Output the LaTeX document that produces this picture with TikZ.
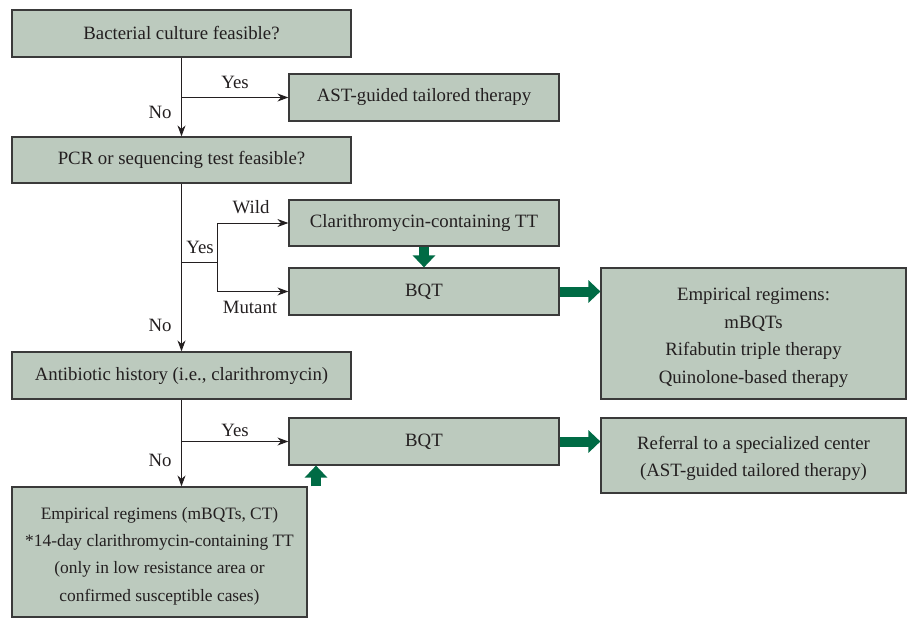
\documentclass[tikz,border=0pt]{standalone}
\usepackage{fontspec}
\setmainfont{Liberation Serif}
\usetikzlibrary{arrows.meta}
\definecolor{boxfill}{HTML}{BCCABE}
\definecolor{boxdraw}{HTML}{3A3A3A}
\definecolor{garrow}{HTML}{006B45}
\definecolor{ink}{HTML}{231F20}
\begin{document}
\begin{tikzpicture}[x=1pt,y=-1pt,
  box/.style={draw=boxdraw, fill=boxfill, line width=1.2pt, inner sep=0pt, align=center,
    font=\fontsize{18.8}{27.6}\selectfont, text=ink},
  multi/.style={inner sep=0pt, align=center, font=\fontsize{18.8}{27.6}\selectfont, text=ink},
  lab/.style={font=\fontsize{18.8}{22}\selectfont, inner sep=1pt, text=ink},
  conn/.style={line width=1pt, draw=ink, -{Stealth[length=11pt,width=8pt]}},
  plain/.style={line width=1pt, draw=ink},
  garr/.style={line width=10pt, draw=garrow, -{Triangle[length=12pt,width=22pt]}}]
\useasboundingbox (0,0) rectangle (908,619);
% boxes
\node[box, minimum width=339pt, minimum height=47pt] (b1) at (181.5,33.5) {Bacterial culture feasible?};
\node[box, minimum width=270pt, minimum height=47pt] (b2) at (424,97.5) {AST-guided tailored therapy};
\node[box, minimum width=339pt, minimum height=46pt] (b3) at (181.5,160) {PCR or sequencing test feasible?};
\node[box, minimum width=270pt, minimum height=46pt] (b4) at (424,223) {Clarithromycin-containing TT};
\node[box, minimum width=270pt, minimum height=47pt] (b5) at (424,291.5) {BQT};
\node[box, minimum width=305pt, minimum height=131pt] (b6) at (753.5,333.5) {};
\node[multi, yshift=-4pt] (t6) at (b6.center) {Empirical regimens:\\mBQTs\\Rifabutin triple therapy\\Quinolone-based therapy};
\node[box, minimum width=339pt, minimum height=47pt] (b7) at (181.5,375.5) {Antibiotic history (i.e., clarithromycin)};
\node[box, minimum width=270pt, minimum height=47pt] (b8) at (424,441.5) {BQT};
\node[box, minimum width=305pt, minimum height=75pt] (b9) at (753.5,455.5) {};
\node[multi, yshift=-3pt] (t9) at (b9.center) {Referral to a specialized center\\(AST-guided tailored therapy)};
\node[box, minimum width=295pt, minimum height=130pt] (b10) at (159.5,552) {};
\node[multi, yshift=-4pt, font=\fontsize{17.4}{27.4}\selectfont] (t10) at (b10.center) {Empirical regimens (mBQTs, CT)\\*14-day clarithromycin-containing TT\\(only in low resistance area or\\confirmed susceptible cases)};
% connectors
\coordinate (j1) at (181.5,97.5);
\draw[conn] (b1.south) -- (b3.north);
\draw[conn] (j1) -- (b2.west);
\coordinate (j2) at (181.5,262);
\coordinate (k2) at (217,262);
\draw[conn] (b3.south) -- (b7.north);
\draw[plain] (j2) -- (k2);
\draw[conn] (k2) |- (b4.west);
\draw[conn] (k2) |- (b5.west);
\coordinate (j3) at (181.5,441.5);
\draw[conn] (b7.south) -- (b7.south |- b10.north);
\draw[conn] (j3) -- (b8.west);
% green arrows
\coordinate (g3) at (316,0);
\draw[garr] (b4.south) -- (b5.north);
\draw[garr] (b5.east) -- (b6.west |- b5.east);
\draw[garr] (b10.north -| g3) -- (b8.south -| g3);
\draw[garr] (b8.east) -- (b9.west |- b8.east);
% labels
\node[lab] (l1) at (235,82) {Yes};
\node[lab] (l2) at (160,112) {No};
\node[lab] (l3) at (251,207) {Wild};
\node[lab] (l4) at (200,247) {Yes};
\node[lab] (l5) at (250,307) {Mutant};
\node[lab] (l6) at (160,325) {No};
\node[lab] (l7) at (235,430) {Yes};
\node[lab] (l8) at (160,460) {No};
\end{tikzpicture}
\end{document}
